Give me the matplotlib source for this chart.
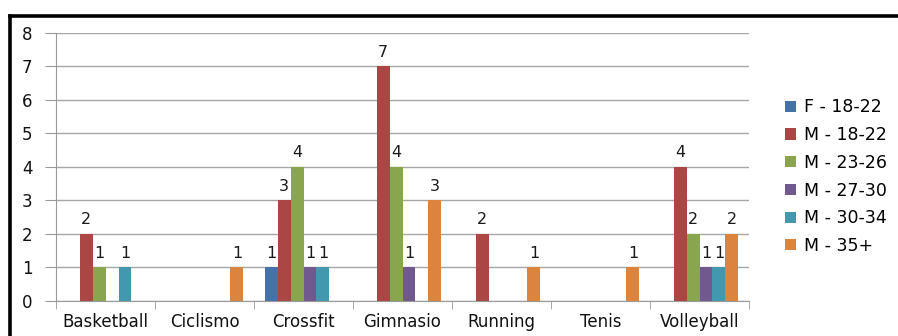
import numpy as np
import matplotlib
matplotlib.use("Agg")
import matplotlib.pyplot as plt
from matplotlib.lines import Line2D

# ----------------------------
# data
# ----------------------------

categories = ["Basketball", "Ciclismo", "Crossfit", "Gimnasio", "Running", "Tenis", "Volleyball"]
series_names = ["F - 18-22", "M - 18-22", "M - 23-26", "M - 27-30", "M - 30-34", "M - 35+"]

f_18_22 = [0, 0, 1, 0, 0, 0, 0]
m_18_22 = [2, 0, 3, 7, 2, 0, 4]
m_23_26 = [1, 0, 4, 4, 0, 0, 2]
m_27_30 = [0, 0, 1, 1, 0, 0, 1]
m_30_34 = [1, 0, 1, 0, 0, 0, 1]
m_35_up = [0, 1, 0, 3, 1, 1, 2]

series_values = [f_18_22, m_18_22, m_23_26, m_27_30, m_30_34, m_35_up]
colors = ["#4572A7", "#AA4643", "#89A54E", "#71588F", "#4198AF", "#DB843D"]

# ----------------------------
# figure
# ----------------------------

plt.rcParams['font.family'] = ['DejaVu Sans']

fig = plt.figure(figsize=(8.98, 3.36), dpi=100)
ax = fig.add_axes([0.0624, 0.1042, 0.7717, 0.7976])

x = np.arange(len(categories))
n = len(series_values)
bar_w = 0.131
for i, (name, vals, col) in enumerate(zip(series_names, series_values, colors)):
    offs = (i - (n - 1) / 2) * bar_w
    bars = ax.bar(x + offs, vals, width=bar_w, color=col, label=name, zorder=3)
    for b, v in zip(bars, vals):
        if v > 0:
            ax.text(b.get_x() + b.get_width() / 2, v + 0.2, str(v),
                    ha="center", va="bottom", fontsize=11.5, color="#1a1a1a")

ax.set_xlim(-0.5, len(categories) - 0.5)
ax.set_ylim(0, 8)
ax.set_yticks(range(0, 9))
ax.yaxis.grid(True, color="#A6A6A6", linewidth=1, zorder=0)
ax.set_axisbelow(True)

ax.set_xticks(x)
ax.set_xticklabels(categories, fontsize=12, color="#111111")
ax.set_xticks(np.arange(-0.5, len(categories)), minor=True)
ax.tick_params(axis="x", which="major", length=0, pad=9)
ax.tick_params(axis="x", which="minor", length=6, color="#999999", direction="out")
ax.tick_params(axis="y", length=8, color="#999999", pad=9, labelsize=12, labelcolor="#111111")

for s in ["top", "right"]:
    ax.spines[s].set_visible(False)
for s in ["left", "bottom"]:
    ax.spines[s].set_color("#999999")

leg = fig.legend(loc="upper left", bbox_to_anchor=(0.865, 0.733), frameon=False,
                 fontsize=12.5, handlelength=0.6, handleheight=0.6,
                 handletextpad=0.45, labelspacing=0.56, borderpad=0)

# outer frame (top and left edges)
fig.add_artist(Line2D([9.5 / 898, 9.5 / 898], [0, 1 - 15.5 / 336], transform=fig.transFigure,
                      color="black", linewidth=2.6, solid_capstyle="projecting"))
fig.add_artist(Line2D([9.5 / 898, 1], [1 - 15.5 / 336, 1 - 15.5 / 336], transform=fig.transFigure,
                      color="black", linewidth=2.6, solid_capstyle="projecting"))

plt.savefig("out.png", dpi=100)
